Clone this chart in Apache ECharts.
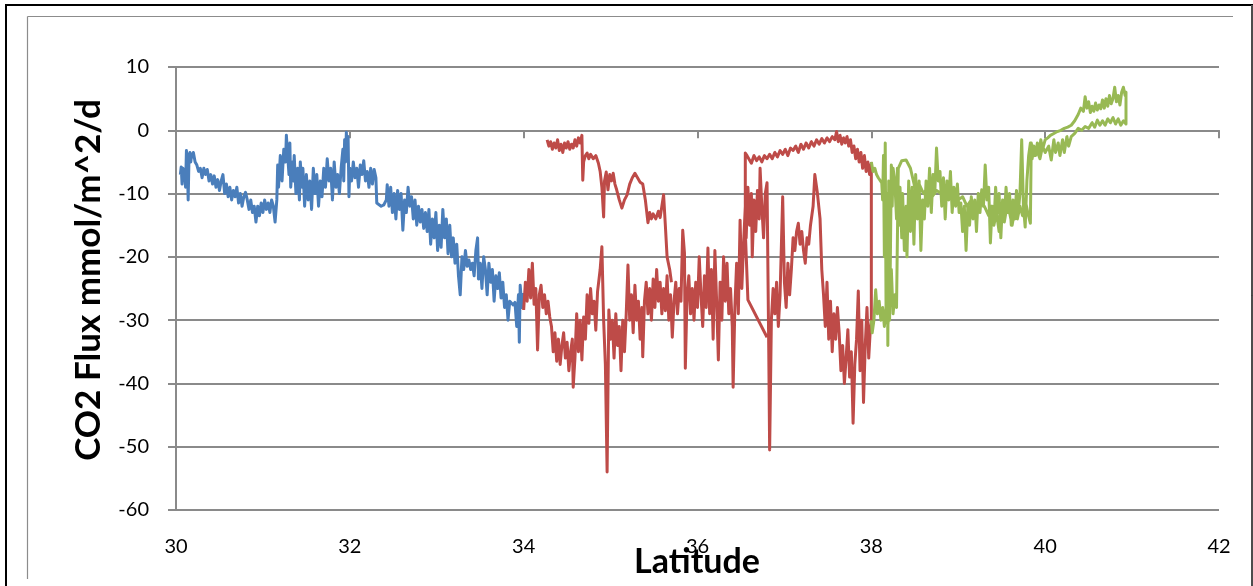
<!DOCTYPE html>
<html><head><meta charset="utf-8">
<script src="https://cdn.jsdelivr.net/npm/echarts@6/dist/echarts.min.js"></script>
<style>html,body{margin:0;padding:0;background:#fff;}#c{width:1253px;height:586px;}</style>
</head><body><div id="c"></div>
<script>
const xTicks = [30, 32, 34, 36, 38, 40, 42];
const yTicks = [10, 0, -10, -20, -30, -40, -50, -60];
const xTitle = 'Latitude';
const yTitle = 'CO2 Flux mmol/m^2/d';

const blue = [[30.05,-7],[30.06,-5.8],[30.07,-8.5],[30.08,-6],[30.09,-7.5],[30.1,-6.5],[30.11,-9],[30.12,-3.2],[30.13,-5],[30.14,-11],[30.15,-4],[30.16,-3.5],[30.17,-5],[30.18,-3.8],[30.19,-4.2],[30.2,-3.5],[30.22,-5],[30.24,-5.5],[30.26,-6.5],[30.28,-6],[30.3,-7.5],[30.32,-6],[30.34,-7],[30.36,-6.2],[30.38,-8],[30.4,-7],[30.42,-8.5],[30.44,-7.2],[30.46,-9],[30.48,-7.8],[30.5,-9.5],[30.52,-8],[30.54,-7],[30.56,-10],[30.58,-8.5],[30.6,-10.5],[30.62,-9],[30.64,-11],[30.66,-9.5],[30.68,-10.5],[30.7,-9],[30.72,-11.5],[30.74,-10],[30.76,-12],[30.78,-10.5],[30.8,-9.8],[30.82,-11],[30.84,-12.5],[30.86,-11],[30.88,-13],[30.9,-12],[30.92,-14.5],[30.94,-12],[30.96,-13.5],[30.98,-11.5],[31.0,-13],[31.02,-11],[31.04,-12.5],[31.06,-11.5],[31.08,-13],[31.1,-11],[31.12,-12],[31.14,-14.5],[31.16,-11],[31.17,-5.5],[31.18,-9],[31.2,-4],[31.22,-8],[31.24,-3],[31.26,-5],[31.27,-0.8],[31.28,-3],[31.3,-7],[31.31,-2],[31.32,-9],[31.34,-5],[31.35,-8],[31.36,-4],[31.38,-10],[31.4,-6],[31.42,-11],[31.43,-5],[31.45,-9],[31.46,-6],[31.48,-12],[31.5,-7],[31.52,-11],[31.54,-8],[31.56,-12.5],[31.58,-6],[31.6,-10],[31.62,-7],[31.64,-12],[31.66,-8],[31.68,-10.5],[31.7,-6],[31.72,-9],[31.74,-4.5],[31.76,-8],[31.78,-6],[31.8,-11],[31.82,-5],[31.84,-9],[31.86,-7],[31.88,-10],[31.9,-6],[31.92,-3],[31.93,-8],[31.94,-1.5],[31.95,-5],[31.96,-0.3],[31.97,-4],[31.98,-1],[31.99,-10.5],[32.0,-6],[32.02,-8],[32.04,-5],[32.06,-7.5],[32.08,-6],[32.1,-9],[32.12,-5.5],[32.14,-7],[32.16,-4.8],[32.18,-8],[32.2,-6.5],[32.22,-9],[32.24,-6],[32.26,-8.5],[32.28,-6.2],[32.3,-7.5],[32.31,-11.5],[32.33,-11.8],[32.36,-12],[32.39,-11.8],[32.42,-11],[32.43,-8.6],[32.45,-12],[32.47,-9],[32.49,-13],[32.51,-10],[32.53,-14],[32.55,-9.5],[32.57,-12.5],[32.59,-10],[32.61,-15.8],[32.63,-11],[32.65,-13],[32.67,-9],[32.69,-12],[32.71,-10.5],[32.73,-14],[32.75,-11],[32.77,-15],[32.79,-12],[32.81,-14.5],[32.83,-12.5],[32.85,-15.5],[32.87,-13],[32.89,-16],[32.91,-12.5],[32.93,-18],[32.95,-14],[32.97,-17],[32.99,-13],[33.01,-19],[33.03,-15],[33.05,-18.5],[33.07,-12.5],[33.09,-17],[33.11,-14],[33.13,-19.5],[33.15,-15],[33.17,-20],[33.19,-17],[33.21,-21],[33.23,-18],[33.25,-23],[33.27,-26],[33.29,-20],[33.31,-22],[33.33,-19],[33.35,-21.5],[33.37,-20.5],[33.39,-22],[33.41,-21],[33.43,-23],[33.45,-19],[33.47,-17],[33.48,-23.5],[33.5,-21],[33.52,-25],[33.54,-20],[33.56,-22],[33.58,-26],[33.6,-21],[33.62,-24],[33.64,-22],[33.66,-27],[33.68,-23],[33.7,-25],[33.72,-22.5],[33.74,-26.5],[33.76,-24],[33.78,-28],[33.8,-26],[33.82,-30],[33.84,-27],[33.86,-27.3],[33.88,-27.6],[33.9,-27.2],[33.92,-31],[33.94,-26],[33.95,-33.5],[33.96,-24.5],[33.98,-28],[34.0,-25.7]];

const redLow = [[34.0,-28.4],[34.02,-24],[34.04,-27],[34.06,-22],[34.08,-26.5],[34.1,-21],[34.12,-27.5],[34.14,-25],[34.16,-34.7],[34.18,-26],[34.2,-24.5],[34.22,-28],[34.24,-26],[34.26,-29],[34.28,-27],[34.3,-29.5],[34.32,-31],[34.34,-35],[34.36,-32],[34.38,-36.5],[34.4,-33],[34.42,-37],[34.44,-34],[34.46,-32],[34.48,-36],[34.5,-33.5],[34.52,-38],[34.54,-35],[34.56,-33],[34.57,-40.6],[34.59,-36],[34.61,-29],[34.63,-35],[34.65,-30],[34.67,-36.3],[34.69,-29.5],[34.71,-33],[34.73,-26],[34.75,-30.5],[34.77,-25],[34.79,-29],[34.81,-27],[34.83,-31.6],[34.85,-25.5],[34.88,-22],[34.9,-18.4],[34.92,-30],[34.94,-37],[34.96,-54],[34.98,-28.4],[35.0,-33],[35.02,-30],[35.04,-36],[35.06,-29],[35.08,-34],[35.1,-31],[35.12,-38],[35.14,-30],[35.16,-35],[35.18,-29],[35.2,-21.3],[35.22,-30],[35.24,-26],[35.26,-32],[35.28,-24.5],[35.3,-30],[35.32,-27],[35.34,-33],[35.36,-28],[35.37,-35.8],[35.39,-27],[35.41,-24],[35.43,-29],[35.45,-25],[35.47,-30],[35.49,-23.5],[35.51,-28],[35.53,-22],[35.55,-27],[35.57,-24],[35.59,-29],[35.61,-25],[35.63,-28.5],[35.65,-23],[35.67,-30],[35.69,-26],[35.71,-32.7],[35.73,-27],[35.75,-24],[35.77,-29],[35.79,-25],[35.81,-27],[35.83,-15.8],[35.85,-19.4],[35.86,-37.6],[35.88,-26],[35.9,-23],[35.92,-29],[35.94,-25],[35.96,-30],[35.98,-24],[36.0,-28],[36.02,-20],[36.04,-26],[36.06,-31],[36.08,-23],[36.1,-28],[36.12,-18.6],[36.14,-29],[36.16,-22],[36.18,-33],[36.2,-19],[36.22,-27],[36.24,-36.3],[36.26,-24],[36.28,-30],[36.3,-20],[36.32,-27],[36.34,-21],[36.36,-29],[36.38,-25],[36.4,-31],[36.41,-40.6],[36.43,-28],[36.45,-21],[36.47,-29],[36.49,-14.2],[36.51,-25],[36.53,-18],[36.55,-12],[36.56,-17],[36.58,-9],[36.6,-15],[36.62,-10],[36.63,-20],[36.65,-11],[36.67,-16],[36.69,-9.5],[36.71,-14],[36.72,-6],[36.74,-12],[36.76,-17],[36.78,-10],[36.8,-8.3],[36.82,-35],[36.83,-50.5],[36.85,-30],[36.87,-25],[36.89,-29],[36.91,-24],[36.93,-31],[36.95,-26],[36.98,-10.5],[37.0,-24],[37.02,-28],[37.04,-21],[37.06,-26],[37.08,-22],[37.1,-17],[37.12,-19],[37.14,-16],[37.16,-14.7],[37.18,-18],[37.2,-16],[37.22,-19],[37.24,-21],[37.26,-17],[37.28,-18],[37.3,-15],[37.33,-12],[37.35,-7],[37.38,-10],[37.41,-14],[37.43,-22],[37.45,-26],[37.47,-31],[37.49,-24],[37.51,-33],[37.53,-27],[37.55,-35],[37.57,-29],[37.59,-33],[37.61,-28],[37.63,-32],[37.65,-38],[37.67,-34],[37.69,-40],[37.71,-36],[37.73,-31.5],[37.75,-39],[37.77,-35],[37.79,-46.3],[37.81,-37],[37.83,-33],[37.85,-25.4],[37.87,-38],[37.89,-30],[37.91,-43],[37.93,-34],[37.95,-28],[37.97,-36],[37.99,-31],[38.0,-30],[38.0,-5.2],[37.98,-7],[37.96,-5],[37.94,-6.5],[37.92,-4],[37.9,-6],[37.88,-3.5],[37.86,-5],[37.84,-3],[37.82,-4.5],[37.8,-2.5],[37.78,-3.5],[37.76,-1.5],[37.74,-2.5],[37.72,-1],[37.7,-2],[37.68,-1.2],[37.66,-2.2],[37.64,-0.8],[37.62,-1.8],[37.6,-0.2],[37.58,-1.5],[37.55,-1],[37.52,-1.8],[37.49,-1.2],[37.46,-2],[37.43,-1.3],[37.4,-2.2],[37.37,-1.5],[37.34,-2.5],[37.31,-1.8],[37.28,-2.8],[37.25,-2],[37.22,-3],[37.19,-2.2],[37.16,-3.5],[37.13,-2.5],[37.1,-3.2],[37.07,-2.8],[37.04,-4],[37.01,-3],[36.98,-3.8],[36.95,-3.2],[36.92,-4.2],[36.89,-3.5],[36.86,-4.5],[36.83,-3.8],[36.8,-4.5],[36.77,-4],[36.74,-5],[36.71,-4.2],[36.68,-4.8],[36.65,-4],[36.62,-5.2],[36.59,-4.5],[36.57,-4],[36.55,-3.6],[36.55,-16],[36.58,-26.8],[36.8,-32.7]];

const redTop = [[34.27,-1.5],[34.29,-2.5],[34.31,-1.8],[34.33,-3],[34.35,-2],[34.37,-2.8],[34.39,-1.5],[34.41,-3.2],[34.43,-2.2],[34.45,-3.5],[34.47,-2],[34.49,-2.8],[34.51,-1.8],[34.53,-3],[34.55,-2.2],[34.57,-2.8],[34.59,-1.5],[34.61,-2.5],[34.63,-1.2],[34.65,-2],[34.67,-0.8],[34.68,-7.9],[34.69,-5],[34.71,-4],[34.73,-3.6],[34.75,-4.5],[34.77,-3.8],[34.8,-4.5],[34.83,-4],[34.86,-5.2],[34.88,-6.5],[34.9,-9],[34.92,-13.7],[34.93,-8],[34.95,-6.6],[34.97,-9.4],[34.99,-7],[35.01,-8],[35.03,-6.8],[35.05,-8.5],[35.07,-9.4],[35.1,-11],[35.13,-12.3],[35.16,-11],[35.19,-10.2],[35.22,-8.5],[35.25,-7.5],[35.28,-6.8],[35.31,-7.5],[35.34,-8.2],[35.37,-8.5],[35.4,-11],[35.43,-14.6],[35.45,-13],[35.47,-14],[35.49,-13.2],[35.52,-14],[35.55,-12.8],[35.57,-13.8],[35.59,-12],[35.61,-10.2],[35.63,-15],[35.65,-20],[35.68,-22],[35.7,-24]];

const green = [[38.0,-5],[38.02,-6.5],[38.04,-6],[38.06,-7],[38.08,-7.5],[38.1,-7.2],[38.12,-8.3],[38.13,-11],[38.14,-4],[38.15,-20],[38.16,-2],[38.17,-30],[38.18,-10],[38.19,-34],[38.2,-8],[38.21,-30],[38.22,-19],[38.23,-5.5],[38.24,-12],[38.25,-6],[38.27,-8],[38.29,-14],[38.3,-6],[38.32,-15],[38.33,-9],[38.35,-17],[38.36,-10],[38.38,-19],[38.4,-12],[38.41,-20],[38.43,-8],[38.45,-16],[38.47,-9],[38.49,-18],[38.51,-7],[38.53,-14],[38.55,-8],[38.57,-19],[38.59,-11],[38.61,-14],[38.63,-8],[38.65,-12],[38.67,-6],[38.69,-13],[38.71,-7],[38.73,-10],[38.75,-2.8],[38.77,-8],[38.79,-6.5],[38.81,-12],[38.83,-7.5],[38.85,-14],[38.87,-8],[38.89,-11],[38.91,-6.5],[38.93,-13],[38.95,-9],[38.97,-12],[38.99,-8.5],[39.01,-13],[39.03,-11.5],[39.05,-16],[39.07,-12],[39.09,-19],[39.11,-12],[39.13,-15],[39.15,-10.5],[39.17,-14],[39.19,-11],[39.21,-16],[39.23,-10],[39.25,-13],[39.27,-9.4],[39.29,-12],[39.31,-5.5],[39.33,-11],[39.35,-9],[39.37,-17.8],[39.39,-12],[39.41,-15],[39.43,-9],[39.45,-13],[39.47,-10],[39.49,-17],[39.51,-11],[39.53,-14],[39.55,-9],[39.57,-13],[39.59,-10],[39.61,-15],[39.63,-11],[39.65,-14],[39.67,-9.5],[39.69,-13],[39.71,-10],[39.73,-1.5],[39.75,-12],[39.77,-15.3],[39.79,-8],[39.81,-4],[39.83,-2],[39.85,-4.5],[39.87,-2.5],[39.89,-4],[39.91,-2],[39.93,-3.5],[39.95,-1.5],[39.97,-3],[40.0,-1.5],[40.03,-1.2],[40.06,-0.8],[40.1,-0.5],[40.14,-0.2],[40.18,0],[40.22,0.3],[40.26,0.5],[40.3,0.8],[40.34,1.5],[40.38,2.5],[40.41,3.5],[40.44,3],[40.46,5.3],[40.48,3.5],[40.5,4.5],[40.52,2.8],[40.54,3.8],[40.56,3],[40.58,4.3],[40.6,3.2],[40.62,4],[40.64,3.4],[40.66,4.8],[40.68,3.5],[40.7,5],[40.72,3.8],[40.74,5.5],[40.76,4.2],[40.78,5],[40.8,6.8],[40.82,4.5],[40.84,5.5],[40.86,4],[40.88,6],[40.9,6.8],[40.92,5.5],[40.93,6],[40.93,1],[40.9,1.5],[40.87,0.8],[40.84,1.8],[40.81,1],[40.78,2],[40.75,1.2],[40.72,1.8],[40.69,0.8],[40.66,1.5],[40.63,0.8],[40.6,1.6],[40.57,0.5],[40.54,1.2],[40.5,0.3],[40.46,0.6],[40.42,0],[40.38,0.3],[40.34,-0.5],[40.3,-1],[40.27,-2.5],[40.25,-1],[40.22,-3.5],[40.2,-1.5],[40.17,-4],[40.15,-2],[40.12,-3.5],[40.1,-1.5],[40.07,-4.7],[40.04,-2.5],[40.0,-3.5],[39.97,-2.5],[39.94,-4.5],[39.9,-3],[39.87,-4],[39.84,-2],[39.83,-14.7],[39.8,-13],[39.77,-11],[39.74,-13.5],[39.71,-12],[39.68,-14],[39.65,-12.5],[39.62,-15],[39.59,-13],[39.56,-12],[39.53,-14.5],[39.5,-12],[39.47,-16],[39.44,-13],[39.41,-15],[39.38,-12],[39.35,-13.5],[39.3,-12],[39.25,-11],[39.2,-12.5],[39.15,-11],[39.1,-12],[39.05,-10.5],[39.0,-11],[38.95,-10],[38.9,-10.5],[38.85,-9.5],[38.8,-10],[38.75,-9.5],[38.7,-10.5],[38.65,-9],[38.6,-10],[38.55,-8.5],[38.5,-9],[38.45,-6],[38.4,-4.7],[38.35,-4.8],[38.31,-6],[38.29,-28],[38.27,-26],[38.25,-29],[38.23,-22],[38.21,-27],[38.19,-31],[38.17,-28],[38.15,-31],[38.13,-28],[38.11,-30],[38.09,-27],[38.07,-29],[38.05,-25.2],[38.03,-30],[38.01,-32],[38.0,-30]];

const BLUE = '#4A7EBB', RED = '#BE4B48', GREEN = '#98B954';
const GRID_C = '#8a8a8a';
const FONT = 'Lato';

function lineSeries(name, data, color) {
  return { name, type: 'line', data, showSymbol: false, symbol: 'none', xAxisIndex: 0, yAxisIndex: 0,
    lineStyle: { color, width: 3, join: 'round' }, itemStyle: { color }, animation: false, z: 3 };
}

const chart = echarts.init(document.getElementById('c'), null, { renderer: 'canvas' });
chart.setOption({
  backgroundColor: '#ffffff',
  animation: false,
  grid: { left: 176, right: 34, top: 67, bottom: 76, containLabel: false },
  xAxis: [
    { type: 'value', min: xTicks[0], max: xTicks[xTicks.length - 1], interval: 2,
      axisLine: { show: false, onZero: false }, axisTick: { show: false }, splitLine: { show: false },
      axisLabel: { color: '#000', fontFamily: FONT, fontSize: 20, margin: 27 } },
    { type: 'value', min: xTicks[0], max: xTicks[xTicks.length - 1], interval: 2, position: 'bottom',
      axisLine: { show: true, onZero: true, lineStyle: { color: GRID_C, width: 2 } },
      axisTick: { show: true, length: 8, lineStyle: { color: GRID_C, width: 2 } },
      axisLabel: { show: false }, splitLine: { show: false } }
  ],
  yAxis: { type: 'value', min: yTicks[yTicks.length - 1], max: yTicks[0], interval: 10,
    axisLine: { show: true, lineStyle: { color: GRID_C, width: 2 } },
    axisTick: { show: true, length: 8, lineStyle: { color: GRID_C, width: 2 } },
    splitLine: { show: true, lineStyle: { color: GRID_C, width: 2 } },
    axisLabel: { color: '#000', fontFamily: FONT, fontSize: 20, margin: 27 } },
  graphic: [
    { type: 'rect', shape: { x: 6, y: 5, width: 1246, height: 640 }, style: { fill: 'none', stroke: '#000', lineWidth: 2 }, silent: true, z: 100 },
    { type: 'line', shape: { x1: 1252, y1: 5, x2: 1252, y2: 586 }, style: { stroke: '#9a9a9a', lineWidth: 1 }, silent: true, z: 101 },
    { type: 'line', shape: { x1: 27.5, y1: 16.5, x2: 1233, y2: 16.5 }, style: { stroke: '#8c8c8c', lineWidth: 1.2 }, silent: true },
    { type: 'line', shape: { x1: 27.5, y1: 16.5, x2: 27.5, y2: 579 }, style: { stroke: '#8c8c8c', lineWidth: 1.2 }, silent: true },
    { type: 'text', x: 697, y: 562, style: { text: xTitle, font: 'bold 34px ' + FONT, fill: '#000', align: 'center', verticalAlign: 'middle' } },
    { type: 'text', x: 89, y: 280, rotation: Math.PI / 2, style: { text: yTitle, font: 'bold 35px ' + FONT, fill: '#000', align: 'center', verticalAlign: 'middle' } }
  ],
  series: [
    lineSeries('Blue', blue, BLUE),
    lineSeries('Red', redLow, RED),
    lineSeries('Red top', redTop, RED),
    lineSeries('Green', green, GREEN)
  ]
});
</script></body></html>
